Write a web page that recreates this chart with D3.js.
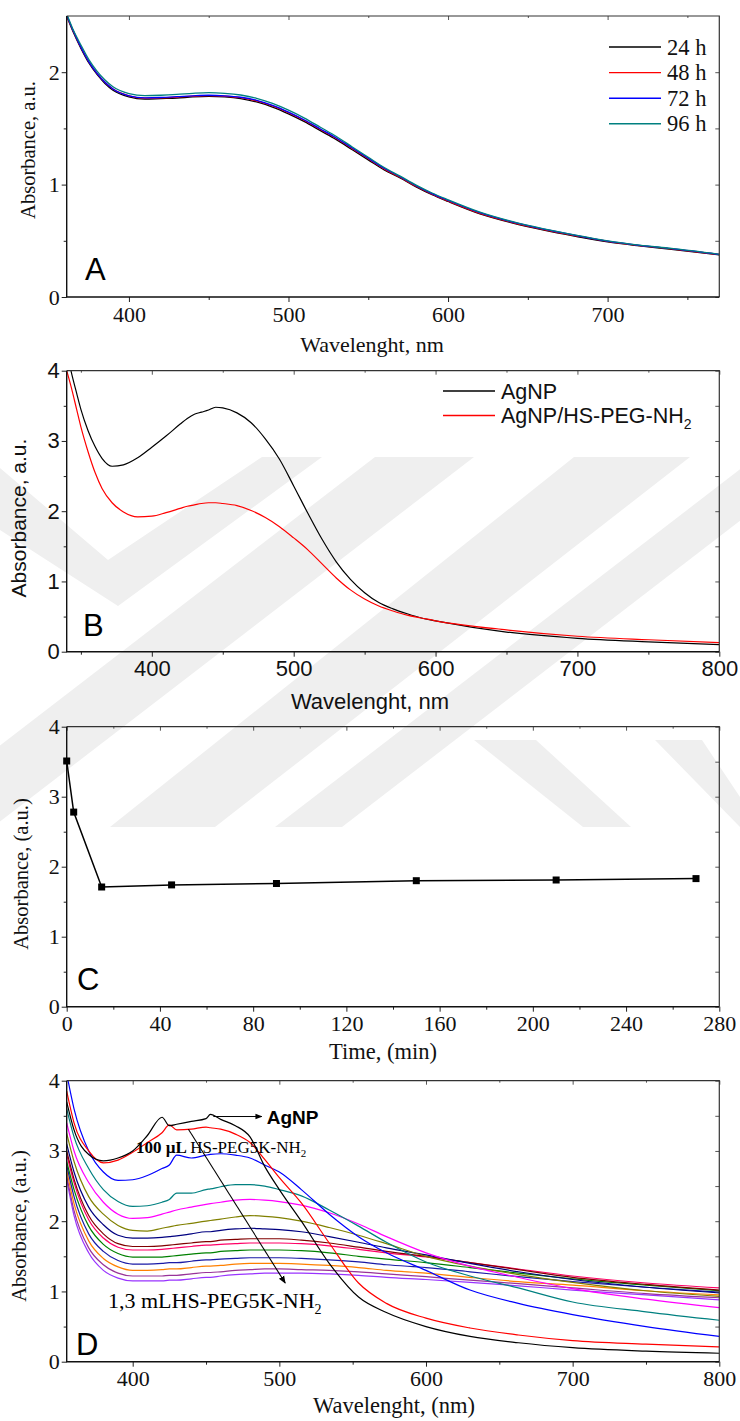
<!DOCTYPE html>
<html>
<head>
<meta charset="utf-8">
<script src="https://cdn.jsdelivr.net/npm/d3@7"></script>
<style>
  html, body { margin: 0; padding: 0; background: #fff; }
  svg { display: block; }
</style>
</head>
<body>
<svg id="fig" width="740" height="1421"></svg>
<script>
// ---------- Panel A: stability over time ----------
const wlA = [361, 365, 370, 375, 380, 385, 390, 400, 410, 420, 430, 440, 450, 460, 470, 480, 490, 500, 510, 520, 530, 540, 550, 560, 570, 580, 590, 600, 620, 640, 660, 680, 700, 720, 740, 770];
const absA24 = [2.50, 2.36, 2.21, 2.08, 1.98, 1.90, 1.84, 1.78, 1.760, 1.765, 1.770, 1.780, 1.785, 1.780, 1.765, 1.735, 1.690, 1.630, 1.560, 1.480, 1.400, 1.310, 1.220, 1.130, 1.060, 0.980, 0.910, 0.850, 0.740, 0.660, 0.595, 0.540, 0.490, 0.455, 0.425, 0.375];
const absA48 = [2.50, 2.37, 2.22, 2.09, 1.99, 1.91, 1.85, 1.79, 1.770, 1.772, 1.778, 1.788, 1.792, 1.788, 1.773, 1.745, 1.700, 1.640, 1.570, 1.490, 1.410, 1.320, 1.230, 1.140, 1.065, 0.985, 0.915, 0.855, 0.745, 0.665, 0.600, 0.545, 0.495, 0.458, 0.428, 0.378];
const absA72 = [2.51, 2.37, 2.22, 2.09, 1.99, 1.91, 1.85, 1.79, 1.772, 1.775, 1.782, 1.790, 1.795, 1.790, 1.777, 1.750, 1.705, 1.645, 1.575, 1.495, 1.415, 1.325, 1.235, 1.145, 1.070, 0.990, 0.920, 0.860, 0.750, 0.668, 0.603, 0.548, 0.497, 0.460, 0.430, 0.378];
const absA96 = [2.52, 2.38, 2.24, 2.11, 2.01, 1.93, 1.87, 1.81, 1.792, 1.795, 1.802, 1.812, 1.818, 1.812, 1.797, 1.768, 1.722, 1.662, 1.592, 1.510, 1.428, 1.335, 1.243, 1.152, 1.075, 0.995, 0.925, 0.865, 0.755, 0.672, 0.606, 0.550, 0.500, 0.462, 0.432, 0.380];
const seriesA = [
  { name: "24 h", values: absA24, color: "#000000" },
  { name: "48 h", values: absA48, color: "#ff0000" },
  { name: "72 h", values: absA72, color: "#0000ff" },
  { name: "96 h", values: absA96, color: "#008080" }
];
const ticksA_x = [400, 500, 600, 700];
const ticksA_y = [0, 1, 2];

// ---------- Panel B: bare vs. PEG-coated AgNP ----------
const wlB = [340, 343, 347, 350, 355, 360, 365, 372, 380, 390, 400, 410, 420, 425, 430, 435, 440, 445, 450, 460, 470, 480, 490, 500, 510, 520, 530, 540, 550, 560, 570, 580, 590, 600, 650, 700, 750, 800];
const absB_AgNP = [4.30, 4.00, 3.68, 3.45, 3.15, 2.92, 2.75, 2.64, 2.66, 2.76, 2.91, 3.07, 3.24, 3.32, 3.38, 3.41, 3.44, 3.48, 3.47, 3.40, 3.26, 3.03, 2.74, 2.36, 1.97, 1.60, 1.28, 1.03, 0.84, 0.70, 0.61, 0.54, 0.48, 0.44, 0.28, 0.19, 0.14, 0.10];
const absB_PEG = [4.00, 3.78, 3.45, 3.20, 2.85, 2.55, 2.32, 2.12, 1.99, 1.92, 1.93, 1.98, 2.04, 2.07, 2.09, 2.11, 2.12, 2.12, 2.11, 2.08, 2.01, 1.91, 1.78, 1.62, 1.45, 1.25, 1.05, 0.88, 0.75, 0.65, 0.58, 0.52, 0.48, 0.44, 0.31, 0.22, 0.17, 0.13];
const seriesB = [
  { name: "AgNP", values: absB_AgNP, color: "#000000" },
  { name: "AgNP/HS-PEG-NH", sub: "2", values: absB_PEG, color: "#ff0000" }
];
const ticksB_x = [400, 500, 600, 700, 800];
const ticksB_y = [0, 1, 2, 3, 4];

// ---------- Panel C: absorbance vs. time ----------
const timeC = [0, 3, 15, 45, 90, 150, 210, 270];
const absC = [3.51, 2.78, 1.71, 1.74, 1.76, 1.80, 1.81, 1.83];
const ticksC_x = [0, 40, 80, 120, 160, 200, 240, 280];
const ticksC_y = [0, 1, 2, 3, 4];

// ---------- Panel D: titration with HS-PEG5K-NH2 ----------
const wlD = [355, 360, 370, 380, 390, 400, 410, 420, 425, 430, 440, 450, 453, 460, 470, 480, 490, 500, 515, 534, 554, 573, 600, 630, 663, 700, 750, 800];
const absD = [
  { color: "#000000", values: [3.70, 3.30, 2.95, 2.86, 2.90, 3.00, 3.22, 3.48, 3.36, 3.38, 3.42, 3.46, 3.52, 3.45, 3.36, 3.20, 2.78, 2.45, 2.00, 1.40, 0.92, 0.70, 0.50, 0.36, 0.27, 0.20, 0.15, 0.12] },
  { color: "#ff0000", values: [3.85, 3.40, 3.00, 2.83, 2.87, 2.98, 3.12, 3.26, 3.37, 3.30, 3.31, 3.34, 3.33, 3.31, 3.24, 3.12, 2.88, 2.62, 2.26, 1.69, 1.12, 0.83, 0.62, 0.48, 0.38, 0.30, 0.25, 0.21] },
  { color: "#0000ff", values: [4.10, 3.60, 3.00, 2.70, 2.58, 2.59, 2.65, 2.75, 2.80, 2.94, 2.90, 2.94, 2.95, 2.96, 2.94, 2.90, 2.80, 2.70, 2.45, 2.10, 1.78, 1.55, 1.30, 1.02, 0.83, 0.67, 0.50, 0.36] },
  { color: "#008080", values: [3.60, 3.20, 2.75, 2.45, 2.28, 2.21, 2.22, 2.27, 2.31, 2.40, 2.40, 2.45, 2.46, 2.49, 2.52, 2.52, 2.50, 2.45, 2.36, 2.16, 1.93, 1.70, 1.42, 1.22, 1.05, 0.85, 0.71, 0.59] },
  { color: "#ff00ff", values: [3.40, 3.00, 2.55, 2.27, 2.10, 2.04, 2.05, 2.10, 2.13, 2.16, 2.20, 2.24, 2.25, 2.27, 2.30, 2.31, 2.30, 2.28, 2.23, 2.12, 1.96, 1.78, 1.55, 1.36, 1.20, 1.04, 0.89, 0.77] },
  { color: "#808000", values: [3.25, 2.85, 2.35, 2.10, 1.94, 1.87, 1.86, 1.90, 1.92, 1.94, 1.97, 2.00, 2.01, 2.03, 2.06, 2.08, 2.07, 2.05, 2.00, 1.91, 1.80, 1.68, 1.50, 1.36, 1.24, 1.13, 1.01, 0.93] },
  { color: "#000080", values: [3.10, 2.70, 2.20, 1.95, 1.80, 1.76, 1.76, 1.77, 1.78, 1.79, 1.82, 1.85, 1.85, 1.87, 1.89, 1.90, 1.89, 1.88, 1.85, 1.78, 1.70, 1.62, 1.52, 1.40, 1.28, 1.17, 1.06, 0.98] },
  { color: "#800000", values: [3.00, 2.60, 2.08, 1.82, 1.68, 1.64, 1.64, 1.65, 1.66, 1.67, 1.69, 1.71, 1.71, 1.73, 1.74, 1.75, 1.75, 1.75, 1.73, 1.69, 1.63, 1.57, 1.50, 1.41, 1.31, 1.20, 1.10, 1.02] },
  { color: "#ff0066", values: [2.95, 2.55, 2.02, 1.76, 1.63, 1.59, 1.59, 1.60, 1.61, 1.62, 1.64, 1.66, 1.66, 1.67, 1.68, 1.69, 1.69, 1.69, 1.68, 1.65, 1.60, 1.55, 1.49, 1.41, 1.32, 1.22, 1.12, 1.05] },
  { color: "#008000", values: [2.85, 2.45, 1.93, 1.67, 1.54, 1.49, 1.49, 1.49, 1.50, 1.51, 1.53, 1.55, 1.55, 1.57, 1.58, 1.59, 1.59, 1.59, 1.58, 1.55, 1.50, 1.46, 1.41, 1.34, 1.26, 1.18, 1.09, 1.01] },
  { color: "#1a1aa6", values: [2.80, 2.35, 1.82, 1.57, 1.44, 1.39, 1.39, 1.40, 1.41, 1.41, 1.43, 1.45, 1.45, 1.46, 1.47, 1.48, 1.48, 1.48, 1.47, 1.45, 1.42, 1.38, 1.34, 1.28, 1.21, 1.14, 1.06, 0.99] },
  { color: "#ff8000", values: [2.72, 2.25, 1.72, 1.47, 1.35, 1.30, 1.30, 1.31, 1.32, 1.32, 1.34, 1.36, 1.36, 1.37, 1.39, 1.40, 1.40, 1.40, 1.39, 1.37, 1.34, 1.30, 1.26, 1.20, 1.14, 1.09, 1.01, 0.95] },
  { color: "#993399", values: [2.65, 2.15, 1.62, 1.38, 1.26, 1.22, 1.22, 1.22, 1.23, 1.23, 1.25, 1.27, 1.27, 1.28, 1.30, 1.31, 1.32, 1.32, 1.31, 1.30, 1.28, 1.25, 1.21, 1.16, 1.11, 1.05, 0.97, 0.91] },
  { color: "#9933ff", values: [2.60, 2.08, 1.55, 1.30, 1.19, 1.15, 1.15, 1.15, 1.16, 1.16, 1.18, 1.20, 1.20, 1.22, 1.24, 1.25, 1.26, 1.26, 1.26, 1.25, 1.23, 1.20, 1.17, 1.13, 1.08, 1.02, 0.95, 0.88] }
];
const ticksD_x = [400, 500, 600, 700, 800];
const ticksD_y = [0, 1, 2, 3, 4];

// annotation anchors in data units (wavelength, absorbance)
const agnpArrow = { from: [455, 3.49], to: [488, 3.49] };
const titrationArrow = { from: [438, 3.31], to: [504, 1.12] };

const SERIF = "'Liberation Serif', 'DejaVu Serif', serif";
const SANS = "'Liberation Sans', Arial, sans-serif";

const svg = d3.select("#fig");
const defs = svg.append("defs");

// faint page watermark (diagonal bands) behind the figure
const watermarkBands = [
  [[0, 468], [108, 560], [262, 457], [322, 457], [118, 606], [0, 530]],
  [[375, 457], [474, 457], [-7, 827], [-106, 827]],
  [[574, 457], [690, 457], [215, 827], [110, 827]],
  [[756, 457], [823, 457], [342, 827], [275, 827]],
  [[474, 740], [536, 740], [631, 827], [583, 827]],
  [[655, 740], [702, 740], [760, 827], [740, 827]]
];
svg.append("g").selectAll("path").data(watermarkBands).join("path")
  .attr("d", d => "M" + d.map(p => p.join(",")).join("L") + "Z")
  .attr("fill", "#efefef");

defs.append("marker")
  .attr("id", "arrowhead")
  .attr("viewBox", "0 0 10 10")
  .attr("refX", 9).attr("refY", 5)
  .attr("markerWidth", 7).attr("markerHeight", 7)
  .attr("orient", "auto-start-reverse")
  .append("path").attr("d", "M0,1 L10,5 L0,9 Z").attr("fill", "#000");

// Generic framed panel: bottom/left axes with outward ticks, top/right mirrors with inward ticks
function framePanel(cfg) {
  const g = svg.append("g");
  const x = d3.scaleLinear().domain(cfg.xDomain).range([cfg.left, cfg.right]);
  const y = d3.scaleLinear().domain(cfg.yDomain).range([cfg.bottom, cfg.top]);
  const font = cfg.font;

  const clipId = "clip-" + cfg.id;
  defs.append("clipPath").attr("id", clipId)
    .append("rect").attr("x", cfg.left).attr("y", cfg.top)
    .attr("width", cfg.right - cfg.left).attr("height", cfg.bottom - cfg.top);

  const plot = g.append("g").attr("clip-path", `url(#${clipId})`);

  const xMinorAll = d3.range(Math.ceil(cfg.xDomain[0] / cfg.xMinorStep) * cfg.xMinorStep, cfg.xDomain[1] + 1e-9, cfg.xMinorStep)
    .filter(v => !cfg.xTicks.includes(v));
  const yMinorAll = d3.range(cfg.yDomain[0] + 0.5, cfg.yDomain[1], 1);

  // bottom axis
  const xAxis = g.append("g").attr("transform", `translate(0,${cfg.bottom})`)
    .call(d3.axisBottom(x).tickValues(cfg.xTicks).tickSize(5).tickSizeOuter(0).tickPadding(4).tickFormat(d3.format("d")));
  xAxis.select(".domain").remove();
  xAxis.selectAll("text").attr("font-family", font).attr("font-size", cfg.tickFont).attr("fill", "#111");
  xAxis.selectAll("line").attr("stroke", "#222");
  g.append("g").attr("transform", `translate(0,${cfg.bottom})`)
    .call(d3.axisBottom(x).tickValues(xMinorAll).tickSize(3).tickFormat(""))
    .call(s => s.select(".domain").remove())
    .selectAll("line").attr("stroke", "#222");
  // top mirror ticks (inward)
  g.append("g").attr("transform", `translate(0,${cfg.top})`)
    .call(d3.axisBottom(x).tickValues(cfg.xTicks).tickSize(4).tickFormat(""))
    .call(s => s.select(".domain").remove())
    .selectAll("line").attr("stroke", "#555");
  g.append("g").attr("transform", `translate(0,${cfg.top})`)
    .call(d3.axisBottom(x).tickValues(xMinorAll).tickSize(2).tickFormat(""))
    .call(s => s.select(".domain").remove())
    .selectAll("line").attr("stroke", "#555");

  // left axis
  const yAxis = g.append("g").attr("transform", `translate(${cfg.left},0)`)
    .call(d3.axisLeft(y).tickValues(cfg.yTicks).tickSize(5).tickSizeOuter(0).tickPadding(2).tickFormat(d3.format("d")));
  yAxis.select(".domain").remove();
  yAxis.selectAll("text").attr("font-family", font).attr("font-size", cfg.tickFont).attr("fill", "#111");
  yAxis.selectAll("line").attr("stroke", "#222");
  g.append("g").attr("transform", `translate(${cfg.left},0)`)
    .call(d3.axisLeft(y).tickValues(yMinorAll).tickSize(3).tickFormat(""))
    .call(s => s.select(".domain").remove())
    .selectAll("line").attr("stroke", "#222");
  // right mirror ticks (inward)
  g.append("g").attr("transform", `translate(${cfg.right},0)`)
    .call(d3.axisRight(y).tickValues(cfg.yTicks.concat(yMinorAll)).tickSize(-4).tickFormat(""))
    .call(s => s.select(".domain").remove())
    .selectAll("line").attr("stroke", "#555");

  // frame
  g.append("path")
    .attr("d", `M${cfg.left},${cfg.top}H${cfg.right}V${cfg.bottom}`)
    .attr("fill", "none").attr("stroke", "#333").attr("stroke-width", 1.2);
  g.append("path")
    .attr("d", `M${cfg.left},${cfg.top}V${cfg.bottom}H${cfg.right}`)
    .attr("fill", "none").attr("stroke", "#111").attr("stroke-width", 1.4);

  // axis titles
  g.append("text")
    .attr("x", cfg.xTitlePos[0]).attr("y", cfg.xTitlePos[1])
    .attr("text-anchor", "middle")
    .attr("font-family", font).attr("font-size", cfg.xTitleFont).attr("fill", "#111")
    .text(cfg.xTitle);
  g.append("text")
    .attr("transform", `translate(${cfg.yTitlePos[0]},${cfg.yTitlePos[1]}) rotate(-90)`)
    .attr("text-anchor", "middle")
    .attr("font-family", font).attr("font-size", cfg.yTitleFont).attr("fill", "#111")
    .text(cfg.yTitle);

  // panel letter
  g.append("text")
    .attr("x", cfg.letterPos[0]).attr("y", cfg.letterPos[1])
    .attr("font-family", SANS).attr("font-size", 31).attr("fill", "#000")
    .text(cfg.letter);

  return { g, plot, x, y };
}

// ---------- Panel A ----------
{
  const p = framePanel({
    id: "a", left: 66.7, right: 719.3, top: 16, bottom: 297,
    xDomain: [361, 770], yDomain: [0, 2.5],
    xTicks: ticksA_x, yTicks: ticksA_y, xMinorStep: 50,
    font: SERIF, tickFont: 22, xTitleFont: 22, yTitleFont: 20.5,
    xTitle: "Wavelenght, nm", xTitlePos: [372, 352],
    yTitle: "Absorbance, a.u.", yTitlePos: [35, 150],
    letter: "A", letterPos: [85, 280]
  });
  const line = d3.line().x((d, i) => p.x(wlA[i])).y(d => p.y(d)).curve(d3.curveMonotoneX);
  seriesA.forEach(s => {
    p.plot.append("path").datum(s.values)
      .attr("d", line).attr("fill", "none")
      .attr("stroke", s.color).attr("stroke-width", 1.3);
  });
  const leg = p.g.append("g");
  seriesA.forEach((s, i) => {
    const cy = 47 + i * 25.6;
    leg.append("line").attr("x1", 609).attr("x2", 661).attr("y1", cy).attr("y2", cy)
      .attr("stroke", s.color).attr("stroke-width", 1.4);
    leg.append("text").attr("x", 667).attr("y", cy + 7.5)
      .attr("font-family", SERIF).attr("font-size", 22.5).attr("fill", "#111").text(s.name);
  });
}

// ---------- Panel B ----------
{
  const p = framePanel({
    id: "b", left: 66.7, right: 719.3, top: 370.7, bottom: 651.7,
    xDomain: [340, 800], yDomain: [0, 4],
    xTicks: ticksB_x, yTicks: ticksB_y, xMinorStep: 50,
    font: SANS, tickFont: 22, xTitleFont: 22, yTitleFont: 21,
    xTitle: "Wavelenght, nm", xTitlePos: [370, 709],
    yTitle: "Absorbance, a.u.", yTitlePos: [26, 518],
    letter: "B", letterPos: [83, 636]
  });
  const line = d3.line().x((d, i) => p.x(wlB[i])).y(d => p.y(d)).curve(d3.curveMonotoneX);
  seriesB.forEach(s => {
    p.plot.append("path").datum(s.values)
      .attr("d", line).attr("fill", "none")
      .attr("stroke", s.color).attr("stroke-width", 1.2);
  });
  const leg = p.g.append("g");
  seriesB.forEach((s, i) => {
    const cy = 391 + i * 24.5;
    leg.append("line").attr("x1", 443).attr("x2", 495).attr("y1", cy).attr("y2", cy)
      .attr("stroke", s.color).attr("stroke-width", 1.3);
    const t = leg.append("text").attr("x", 501).attr("y", cy + 7.5)
      .attr("font-family", SANS).attr("font-size", 21.5).attr("fill", "#111").text(s.name);
    if (s.sub) t.append("tspan").attr("font-size", 14).attr("dy", 6).text(s.sub);
  });
}

// ---------- Panel C ----------
{
  const p = framePanel({
    id: "c", left: 66.7, right: 719.3, top: 726.7, bottom: 1006.7,
    xDomain: [0, 280], yDomain: [0, 4],
    xTicks: ticksC_x, yTicks: ticksC_y, xMinorStep: 20,
    font: SERIF, tickFont: 22, xTitleFont: 22.5, yTitleFont: 20.5,
    xTitle: "Time, (min)", xTitlePos: [383, 1059],
    yTitle: "Absorbance, (a.u.)", yTitlePos: [28, 874],
    letter: "C", letterPos: [77, 990]
  });
  const pts = timeC.map((t, i) => [t, absC[i]]);
  p.g.append("path").datum(pts)
    .attr("d", d3.line().x(d => p.x(d[0])).y(d => p.y(d[1])))
    .attr("fill", "none").attr("stroke", "#000").attr("stroke-width", 1.5);
  p.g.selectAll("rect.pt").data(pts).join("rect")
    .attr("class", "pt")
    .attr("x", d => p.x(d[0]) - 3.5).attr("y", d => p.y(d[1]) - 3.5)
    .attr("width", 7).attr("height", 7).attr("fill", "#000");
}

// ---------- Panel D ----------
{
  const p = framePanel({
    id: "d", left: 66.7, right: 719.3, top: 1080.7, bottom: 1361.7,
    xDomain: [355, 800], yDomain: [0, 4],
    xTicks: ticksD_x, yTicks: ticksD_y, xMinorStep: 50,
    font: SERIF, tickFont: 22, xTitleFont: 22.5, yTitleFont: 20.5,
    xTitle: "Wavelenght, (nm)", xTitlePos: [394, 1413],
    yTitle: "Absorbance, (a.u.)", yTitlePos: [26, 1226],
    letter: "D", letterPos: [76, 1355]
  });
  const line = d3.line().x((d, i) => p.x(wlD[i])).y(d => p.y(d)).curve(d3.curveMonotoneX);
  absD.slice().reverse().forEach(s => {
    p.plot.append("path").datum(s.values)
      .attr("d", line).attr("fill", "none")
      .attr("stroke", s.color).attr("stroke-width", 1.2);
  });

  // AgNP pointer
  p.g.append("line")
    .attr("x1", p.x(agnpArrow.from[0])).attr("y1", p.y(agnpArrow.from[1]))
    .attr("x2", p.x(agnpArrow.to[0])).attr("y2", p.y(agnpArrow.to[1]))
    .attr("stroke", "#000").attr("stroke-width", 1).attr("marker-end", "url(#arrowhead)");
  p.g.append("text")
    .attr("x", p.x(agnpArrow.to[0]) + 5).attr("y", p.y(agnpArrow.to[1]) + 7)
    .attr("font-family", SANS).attr("font-weight", "bold").attr("font-size", 19).attr("fill", "#000")
    .text("AgNP");

  // titration direction arrow
  p.g.append("line")
    .attr("x1", p.x(titrationArrow.from[0])).attr("y1", p.y(titrationArrow.from[1]))
    .attr("x2", p.x(titrationArrow.to[0])).attr("y2", p.y(titrationArrow.to[1]))
    .attr("stroke", "#000").attr("stroke-width", 1.1).attr("marker-end", "url(#arrowhead)");

  const t1 = p.g.append("text")
    .attr("x", 136).attr("y", 1153)
    .attr("font-family", SERIF).attr("font-size", 17).attr("fill", "#000");
  t1.append("tspan").attr("font-weight", "bold").text("100 µL ");
  t1.append("tspan").text("HS-PEG5K-NH");
  t1.append("tspan").attr("font-size", 11).attr("dy", 4).text("2");

  const t2 = p.g.append("text")
    .attr("x", 108).attr("y", 1308)
    .attr("font-family", SERIF).attr("font-size", 22).attr("fill", "#000");
  t2.append("tspan").text("1,3 mLHS-PEG5K-NH");
  t2.append("tspan").attr("font-size", 14).attr("dy", 6).text("2");
}
</script>
</body>
</html>
